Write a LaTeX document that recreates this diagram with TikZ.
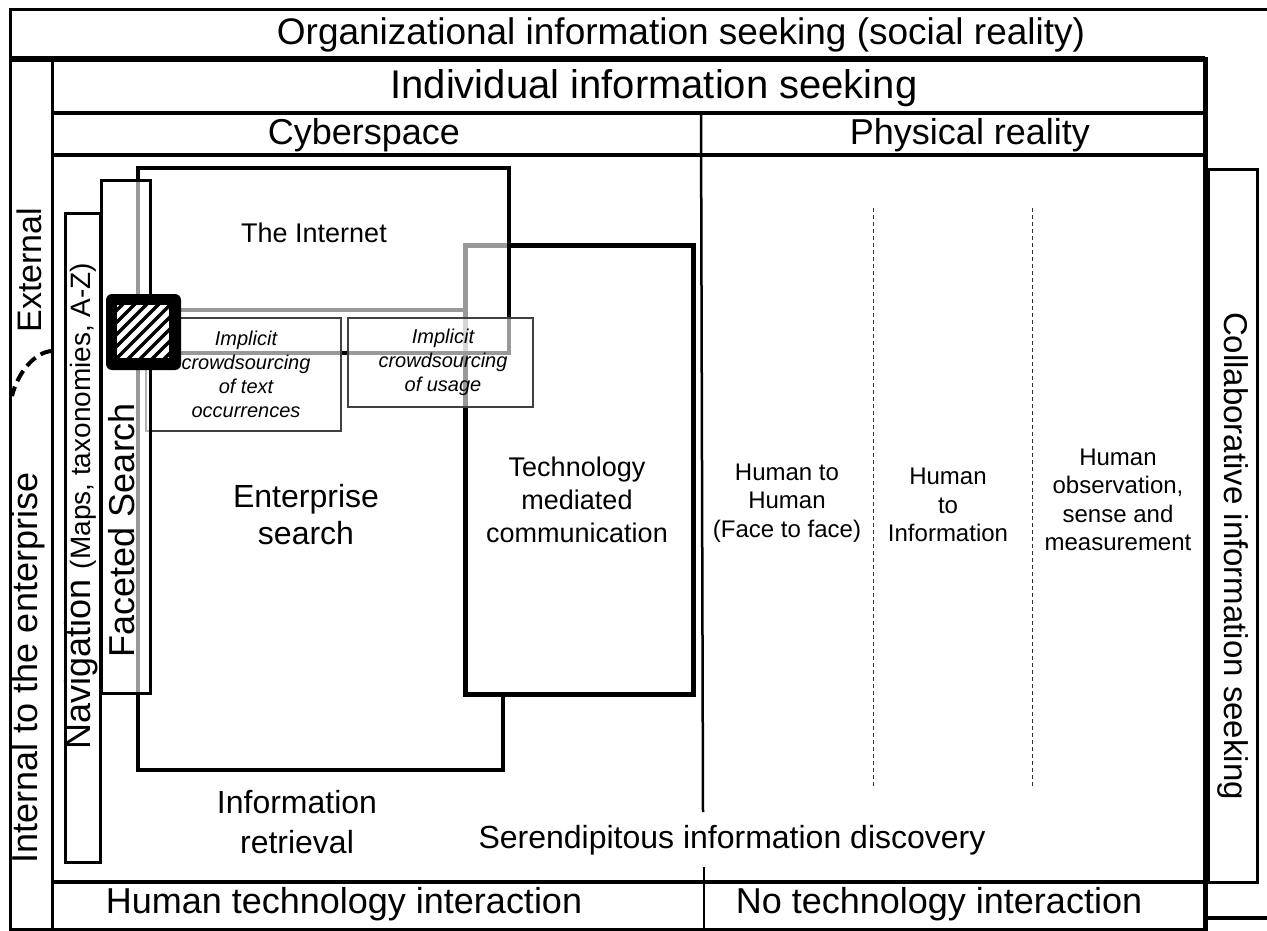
\documentclass[tikz,border=0pt]{standalone}
\usepackage{fontspec}
\setmainfont{Liberation Sans}
\newcommand{\fsz}[2]{\fontsize{#1}{#2}\selectfont}
\begin{document}
\begin{tikzpicture}[x=1pt,y=-1pt,
  txt/.style={inner sep=0pt, align=center, text=black},
  boxline/.style={draw=black, line width=#1},
  veil/.style={fill=white, fill opacity=0.6},
  dotline/.style={draw=black!80, line width=1, dash pattern=on 4 off 3},
  implbox/.style={draw=black!75, line width=1.3, fill=white, fill opacity=0.6}]
\useasboundingbox (0,0) rectangle (1267,931);
\fill[white] (0,0) rectangle (1267,931);

% ---- organizational frame ----
\draw[boxline=3] (1267,10) -- (10,10) -- (10,929) -- (52,929);
\draw[boxline=4] (1205,918) -- (1267,918);
\node[txt, font=\fsz{37}{44}] (org) at (681,35) {Organizational information seeking (social reality)};

% ---- individual frame ----
\draw[boxline=3] (52,59) rectangle (1205,929);
\draw[boxline=6] (10,59) -- (1205,59);
\draw[boxline=5] (1205,57) -- (1205,931);
\draw[boxline=4] (52,113) -- (1205,113);
\draw[boxline=4] (52,155) -- (1205,155);
\draw[boxline=4] (52,882) -- (1205,882);
\node[txt, font=\fsz{40}{48}] (indiv) at (654,88) {Individual information seeking};
\node[txt, font=\fsz{36}{43}] (cyber) at (364,135) {Cyberspace};
\node[txt, font=\fsz{36}{43}] (phys) at (970,135) {Physical reality};

% middle divider
\coordinate (divTop) at (701,113);
\coordinate (divMid) at (703,812);
\coordinate (divLow) at (704,867);
\coordinate (divBot) at (704,929);
\draw[boxline=2.5] (divTop) -- (divMid);
\draw[boxline=2.5] (divLow) -- (divBot);

% collaborative box
\draw[boxline=3] (1208,170) rectangle (1257,882);
\node[txt, font=\fsz{33}{40}, rotate=-90] (collab) at (1233,556) {Collaborative information seeking};

% left column texts
\node[txt, font=\fsz{34}{41}, rotate=90] (ext) at (29,270) {External};
\node[txt, font=\fsz{36}{43}, rotate=90] (int) at (28,668) {Internal to the enterprise};
\coordinate (arcA) at (52,351);
\coordinate (arcB) at (12,396);
\draw[line width=4, dash pattern=on 12 off 6] (arcA) .. controls (35,352) and (18,372) .. (arcB);

% ---- cyberspace boxes ----
\draw[boxline=4] (138,310) rectangle (503,770);
\draw[boxline=5, fill=white] (465,245) rectangle (693,694);
\draw[boxline=4, veil] (138,168) rectangle (509,353);
\draw[implbox] (146,318) rectangle (341,431);
\draw[implbox] (348,318) rectangle (533,407);
\draw[boxline=3, veil] (101,181) rectangle (150,693);
\draw[boxline=3, fill=white] (65,213) rectangle (100,862);

% hatched square
\fill[black, rounded corners=6] (106,294) rectangle (181,370);
\fill[white] (117,305) rectangle (169,358);
\begin{scope}
  \clip (117,305) rectangle (169,358);
  \foreach \k in {-66,-54,...,66}
    \draw[line width=3.3] ({117+\k},364) -- ({117+\k+66},298);
\end{scope}

% texts in cyberspace
\node[txt, font=\fsz{27}{33}] (inet) at (314,233) {The Internet};
\node[txt, font=\itshape\fsz{20}{24}] (impl1) at (246,374) {Implicit\\crowdsourcing\\of text\\occurrences};
\node[txt, font=\itshape\fsz{20}{24}] (impl2) at (443,362) {Implicit\\crowdsourcing\\of usage};
\node[txt, font=\fsz{32}{37}] (ent) at (306,515) {Enterprise\\search};
\node[txt, font=\fsz{27}{33}] (tech) at (577,500) {Technology\\mediated\\communication};
\node[txt, font=\fsz{36}{43}, rotate=90] (facet) at (122,530) {Faceted Search};
\node[txt, font=\fsz{36}{43}, rotate=90] (nav) at (81,506) {Navigation {\fsz{28}{34}(Maps, taxonomies, A-Z)}};
\node[txt, font=\fsz{32}{40}] (ir) at (297,822) {Information\\retrieval};
\node[txt, font=\fsz{32}{38}] (seren) at (732,840) {Serendipitous information discovery};

% physical reality
\coordinate (d1a) at (873,208);
\coordinate (d1b) at (873,788);
\coordinate (d2a) at (1032,208);
\coordinate (d2b) at (1032,788);
\draw[dotline] (d1a) -- (d1b);
\draw[dotline] (d2a) -- (d2b);
\node[txt, font=\fsz{24}{28.5}] (h2h) at (787,503) {Human to\\Human\\(Face to face)};
\node[txt, font=\fsz{24}{28.5}] (h2i) at (948,505) {Human\\to\\Information};
\node[txt, font=\fsz{24}{28.5}] (hobs) at (1118,500) {Human\\observation,\\sense and\\measurement};

% bottom row
\node[txt, font=\fsz{36}{43}] (hti) at (344,904) {Human technology interaction};
\node[txt, font=\fsz{36}{43}] (nti) at (939,904) {No technology interaction};
\end{tikzpicture}
\end{document}
